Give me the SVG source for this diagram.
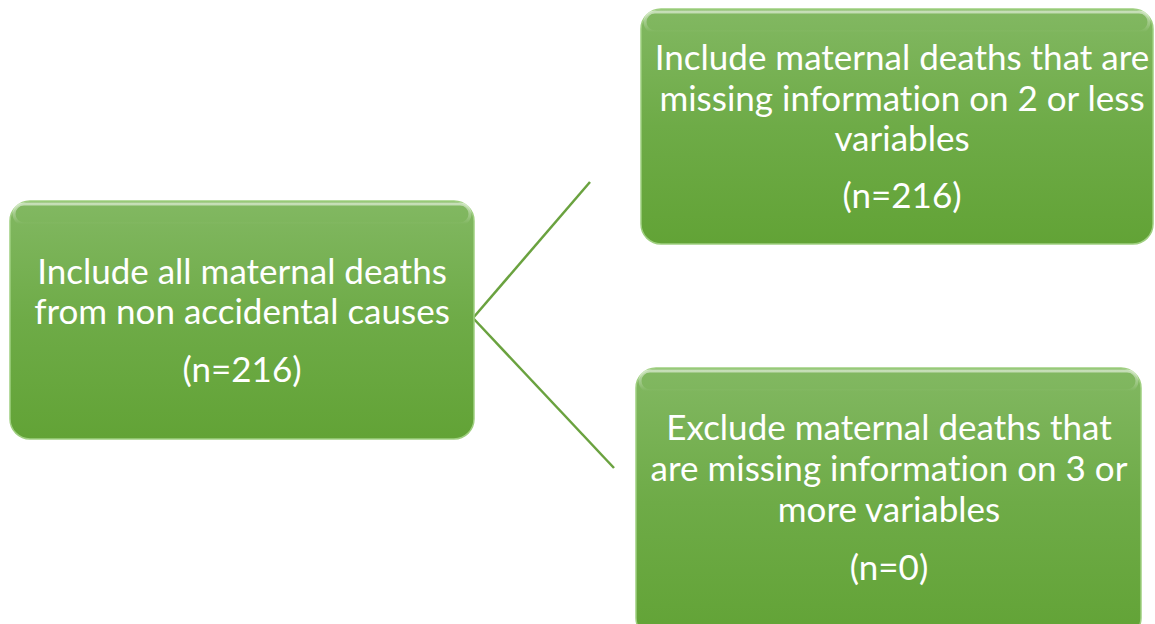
<svg xmlns="http://www.w3.org/2000/svg" width="1155" height="624" viewBox="0 0 1155 624">
<defs>
<linearGradient id="g" x1="0" y1="0" x2="0" y2="1">
<stop offset="0" stop-color="#82b862"/>
<stop offset="0.5" stop-color="#6eab47"/>
<stop offset="1" stop-color="#62a336"/>
</linearGradient>
<linearGradient id="hl" x1="0" y1="0" x2="0" y2="1">
<stop offset="0" stop-color="#ffffff" stop-opacity="0.55"/>
<stop offset="1" stop-color="#ffffff" stop-opacity="0"/>
</linearGradient>
</defs>
<style>
.box{fill:url(#g);stroke:#9fcf80;stroke-width:1.5}
.hl{fill:none;stroke:url(#hl);stroke-width:3}
.t{font-family:Lato,"Open Sans",sans-serif;font-size:35px;fill:#ffffff;text-anchor:middle;font-variant-ligatures:none}
.conn{stroke:#6aa23f;stroke-width:2.5;fill:none}
</style>
<rect width="1155" height="624" fill="#ffffff"/>
<g id="connectors">
<line class="conn" x1="473" y1="318" x2="590" y2="182"/>
<line class="conn" x1="473" y1="318" x2="614" y2="468"/>
</g>
<g id="node-left">
<rect class="box" x="10" y="201" width="464" height="238" rx="20"/>
<rect class="hl" x="14" y="204" width="456" height="20" rx="10"/>
<text class="t" x="242" y="284">Include all maternal deaths</text>
<text class="t" x="242" y="324">from non accidental causes</text>
<text class="t" x="242" y="382">(n=216)</text>
</g>
<g id="node-top">
<rect class="box" x="641" y="9" width="512" height="235" rx="20"/>
<rect class="hl" x="645" y="12" width="504" height="20" rx="10"/>
<text class="t" x="902" y="70">Include maternal deaths that are</text>
<text class="t" x="902" y="111">missing information on 2 or less</text>
<text class="t" x="902" y="151">variables</text>
<text class="t" x="902" y="208">(n=216)</text>
</g>
<g id="node-bottom">
<rect class="box" x="636" y="368" width="505" height="270" rx="20"/>
<rect class="hl" x="640" y="371" width="497" height="20" rx="10"/>
<text class="t" x="889" y="440">Exclude maternal deaths that</text>
<text class="t" x="889" y="481">are missing information on 3 or</text>
<text class="t" x="889" y="522">more variables</text>
<text class="t" x="889" y="580">(n=0)</text>
</g>
</svg>
